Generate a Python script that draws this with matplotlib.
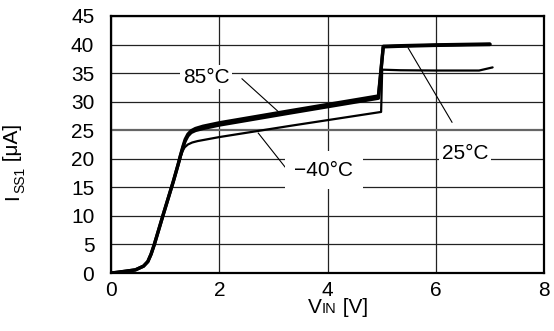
import matplotlib
matplotlib.use("Agg")
import matplotlib.pyplot as plt

plt.rcParams['font.family'] = ['Liberation Sans', 'DejaVu Sans']

# data
v_25 = [0, 0.1, 0.3, 0.45, 0.6, 0.68, 0.74, 0.8, 0.97, 1.15, 1.24, 1.28, 1.33, 1.37, 1.42, 1.48,
        1.56, 1.7, 2.0, 3.3, 4.94, 5.03, 5.35, 6.0, 7.0]
i_25 = [0, 0.1, 0.35, 0.55, 1.2, 2.0, 3.3, 5.0, 10.4, 16.0, 19.0, 20.4, 22.0, 23.1, 24.0, 24.6,
        24.95, 25.3, 25.9, 28.0, 30.6, 39.6, 39.7, 39.85, 40.0]
v_85 = v_25
i_85 = [0, 0.1, 0.35, 0.55, 1.2, 2.0, 3.3, 5.0, 10.4, 16.0, 19.0, 20.5, 22.2, 23.4, 24.3, 24.9,
        25.3, 25.7, 26.3, 28.4, 31.0, 39.7, 39.8, 39.95, 40.1]
v_m40 = [0, 0.1, 0.3, 0.45, 0.6, 0.68, 0.74, 0.8, 0.97, 1.15, 1.24, 1.28, 1.32, 1.36, 1.42, 1.5,
         1.6, 2.0, 3.3, 4.99, 5.01, 5.35, 6.0, 6.8, 7.05]
i_m40 = [0, 0.1, 0.35, 0.55, 1.2, 2.0, 3.3, 5.0, 10.4, 16.0, 19.0, 20.2, 21.3, 22.0, 22.5, 22.85,
         23.1, 23.8, 25.75, 28.2, 35.6, 35.5, 35.45, 35.45, 36.0]

x_ticks = [0, 2, 4, 6, 8]
y_ticks = [0, 5, 10, 15, 20, 25, 30, 35, 40, 45]

fig = plt.figure(figsize=(5.54, 3.31), dpi=100)
ax = fig.add_axes([0.2004, 0.1752, 0.7816, 0.7765])
ax.set_xlim(0, 8)
ax.set_ylim(0, 45)
ax.set_xticks(x_ticks)
ax.set_yticks(y_ticks)
ax.tick_params(length=0, labelsize=15)
ax.tick_params(axis='y', pad=12)
ax.tick_params(axis='x', pad=6)
ax.grid(True, color='#222222', linewidth=0.9)
ax.set_axisbelow(True)
for gl, yv in zip(ax.get_ygridlines(), y_ticks):
    if yv == 25:
        gl.set_color('#666666')
        gl.set_linewidth(1.6)
for s in ax.spines.values():
    s.set_linewidth(1.6)
    s.set_color('black')

kw = dict(color='black', solid_joinstyle='round', solid_capstyle='round', zorder=3)
ax.plot(v_25, i_25, linewidth=2.4, **kw)
ax.plot(v_85, i_85, linewidth=2.4, **kw)
ax.plot(v_m40, i_m40, linewidth=1.6, **kw)

# leader lines and labels
lkw = dict(color='black', linewidth=0.8, zorder=4)
ax.plot([2.42, 3.12], [34.0, 28.0], **lkw)
ax.plot([2.72, 3.22], [24.5, 18.5], **lkw)
ax.plot([6.30, 5.49], [26.4, 39.4], **lkw)

ax.text(1.76, 34.3, '85°C', fontsize=15, ha='center', va='center', zorder=5,
        bbox=dict(boxstyle='square,pad=0.12', fc='white', ec='none'))
ax.text(3.93, 18.0, '\u221240°C', fontsize=15, ha='center', va='center', zorder=5,
        bbox=dict(boxstyle='square,pad=0.45', fc='white', ec='none'))
ax.text(6.54, 21.0, '25°C', fontsize=15, ha='center', va='center', zorder=5,
        bbox=dict(boxstyle='square,pad=0.15', fc='white', ec='none'))

# x label: V with small-caps IN
yb = 0.054
t1 = fig.text(0.556, yb, 'V', fontsize=15, ha='left', va='baseline')
t2 = ax.annotate('IN', xy=(1, yb), xycoords=(t1, 'figure fraction'), fontsize=10.5,
                 ha='left', va='baseline', annotation_clip=False)
t3 = ax.annotate(' [V]', xy=(1, yb), xycoords=(t2, 'figure fraction'), fontsize=15,
                 ha='left', va='baseline', annotation_clip=False)

# y label: I with subscript SS1
xb = 0.033
r1 = fig.text(xb, 0.396, 'I', fontsize=15, rotation=90, rotation_mode='anchor',
              ha='left', va='baseline')
r2 = ax.annotate('SS1', xy=(xb, 1), xycoords=('figure fraction', r1), xytext=(4, 1),
                 textcoords='offset points', fontsize=10, rotation=90, rotation_mode='anchor',
                 ha='left', va='baseline', annotation_clip=False)
r3 = ax.annotate(' [\u03bcA]', xy=(xb, 1), xycoords=('figure fraction', r2), fontsize=15,
                 rotation=90, rotation_mode='anchor', ha='left', va='baseline',
                 annotation_clip=False)

fig.savefig('out.png', dpi=100)
